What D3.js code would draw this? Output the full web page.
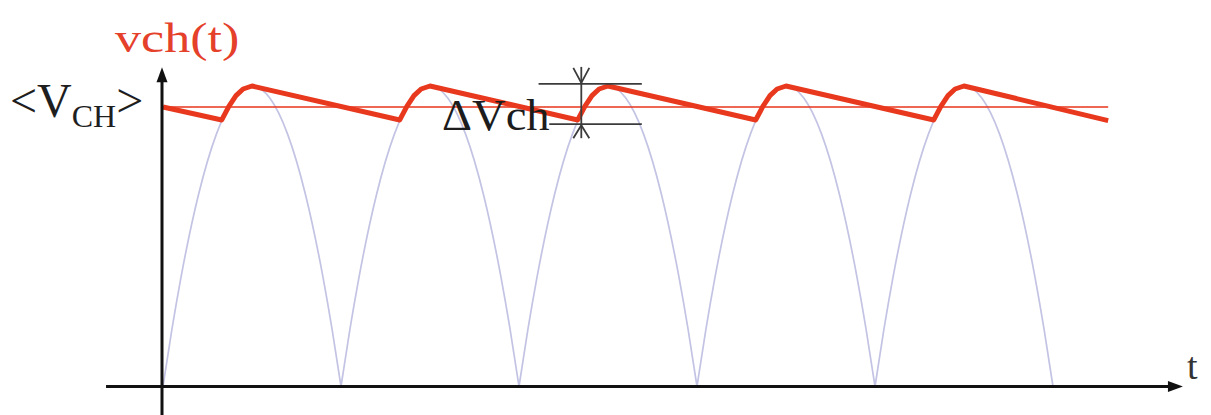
<!DOCTYPE html>
<html>
<head>
<meta charset="utf-8">
<script src="https://cdn.jsdelivr.net/npm/d3@7/dist/d3.min.js"></script>
<style>
  html, body { margin: 0; padding: 0; background: #ffffff; }
  svg { display: block; }
</style>
</head>
<body>
<div id="chart"></div>
<script>
// ---- data ----
// time in units of one rectified half-period; value relative to peak
const archStart = [0, 1, 2, 3, 4];
const archProfileT = [0, 0.05, 0.1, 0.2, 0.3, 0.4, 0.5, 0.6, 0.7, 0.8, 0.9, 0.95, 1];
const archProfileV = [0, 0.19, 0.36, 0.64, 0.84, 0.96, 1, 0.96, 0.84, 0.64, 0.36, 0.19, 0];

const redT = [0, 0.33, 0.37, 0.41, 0.45, 0.5,
              1.33, 1.37, 1.41, 1.45, 1.5,
              2.33, 2.37, 2.41, 2.45, 2.5,
              3.33, 3.37, 3.41, 3.45, 3.5,
              4.33, 4.37, 4.41, 4.45, 4.5,
              5.31];
const redV = [0.93, 0.887, 0.932, 0.968, 0.99, 1.0,
              0.887, 0.932, 0.968, 0.99, 1.0,
              0.887, 0.932, 0.968, 0.99, 1.0,
              0.887, 0.932, 0.968, 0.99, 1.0,
              0.887, 0.932, 0.968, 0.99, 1.0,
              0.885];

const avgLevel = 0.93;
const avgRange = [0, 5.31];

// dimension annotation for the ripple
const dvTop = 1.007;
const dvBottom = 0.873;
const dvAt = 2.35;
const dvTopSpan = [2.11, 2.69];
const dvBottomSpan = [2.17, 2.69];

const labels = { title: "vch(t)", avg: "<V", avgSub: "CH", avgEnd: ">", delta: "\u0394Vch", axisX: "t" };

// ---- drawing ----
const W = 1211, H = 415;
const svg = d3.select("#chart").append("svg").attr("width", W).attr("height", H);

const x = d3.scaleLinear().domain([0, 5]).range([163, 1053]);
const y = d3.scaleLinear().domain([0, 1]).range([386.5, 86]);

const serif = "'Liberation Serif', 'Times New Roman', serif";

// rectified waveform (light lavender)
const archLine = d3.line().x(d => x(d[0])).y(d => y(d[1])).curve(d3.curveMonotoneX);
archStart.forEach(s => {
  const pts = archProfileT.map((f, i) => [s + f, archProfileV[i]]);
  svg.append("path").attr("d", archLine(pts))
    .attr("fill", "none").attr("stroke", "#c3c3e4").attr("stroke-width", 1.7);
});

// average level line
svg.append("line")
  .attr("x1", x(avgRange[0])).attr("x2", x(avgRange[1]))
  .attr("y1", y(avgLevel)).attr("y2", y(avgLevel))
  .attr("stroke", "#e8341c").attr("stroke-width", 1.6);

// ripple voltage
const redLine = d3.line().x((d, i) => x(redT[i])).y((d, i) => y(redV[i])).curve(d3.curveLinear);
svg.append("path").attr("d", redLine(redT))
  .attr("fill", "none").attr("stroke", "#e8391e").attr("stroke-width", 5)
  .attr("stroke-linejoin", "round").attr("stroke-linecap", "butt");

// axes
const axisColor = "#111";
svg.append("line").attr("x1", x(-0.32)).attr("x2", x(5.66))
  .attr("y1", y(0)).attr("y2", y(0)).attr("stroke", axisColor).attr("stroke-width", 3);
svg.append("path")
  .attr("d", `M${x(5.73)},${y(0)} L${x(5.73) - 15},${y(0) - 5.5} L${x(5.73) - 15},${y(0) + 5.5} Z`)
  .attr("fill", axisColor);
svg.append("line").attr("x1", x(0) - 1).attr("x2", x(0) - 1)
  .attr("y1", y(-0.1)).attr("y2", y(1.02)).attr("stroke", axisColor).attr("stroke-width", 3);
svg.append("path")
  .attr("d", `M${x(0) - 1},${y(1.062)} L${x(0) - 6.5},${y(1.062) + 15} L${x(0) + 4.5},${y(1.062) + 15} Z`)
  .attr("fill", axisColor);

// ΔVch dimension marks
const dimColor = "#3c3c3c";
const g = svg.append("g").attr("stroke", dimColor).attr("stroke-width", 1.8).attr("fill", "none");
g.append("line").attr("x1", x(dvTopSpan[0])).attr("x2", x(dvTopSpan[1]))
  .attr("y1", y(dvTop)).attr("y2", y(dvTop));
g.append("line").attr("x1", x(dvBottomSpan[0])).attr("x2", x(dvBottomSpan[1]))
  .attr("y1", y(dvBottom)).attr("y2", y(dvBottom));
const vx = x(dvAt);
g.append("line").attr("x1", vx).attr("x2", vx).attr("y1", y(dvTop) - 17).attr("y2", y(dvBottom) + 14);
g.append("path").attr("d", `M${vx - 8},${y(dvTop) - 16} L${vx},${y(dvTop) - 1} L${vx + 8},${y(dvTop) - 16}`);
g.append("path").attr("d", `M${vx - 8},${y(dvBottom) + 14} L${vx},${y(dvBottom) + 1} L${vx + 8},${y(dvBottom) + 14}`);

// texts
svg.append("text").text(labels.title)
  .attr("transform", "translate(115,52) scale(1.24,1)")
  .attr("font-family", serif).attr("font-size", 42).attr("fill", "#e5402a");

const avgText = svg.append("text")
  .attr("transform", "translate(10,117) scale(1.0,1)")
  .attr("font-family", serif).attr("font-size", 48).attr("fill", "#1e1e1e");
avgText.append("tspan").text(labels.avg);
avgText.append("tspan").text(labels.avgSub).attr("font-size", 32).attr("dy", 10);
avgText.append("tspan").text(labels.avgEnd).attr("dy", -10);

svg.append("text").text(labels.delta)
  .attr("transform", "translate(442,130) scale(1.06,1)")
  .attr("font-family", serif).attr("font-size", 44).attr("fill", "#1c1c1c");

svg.append("text").text(labels.axisX)
  .attr("x", 1187).attr("y", 379)
  .attr("font-family", serif).attr("font-size", 38).attr("fill", "#333");
</script>
</body>
</html>
